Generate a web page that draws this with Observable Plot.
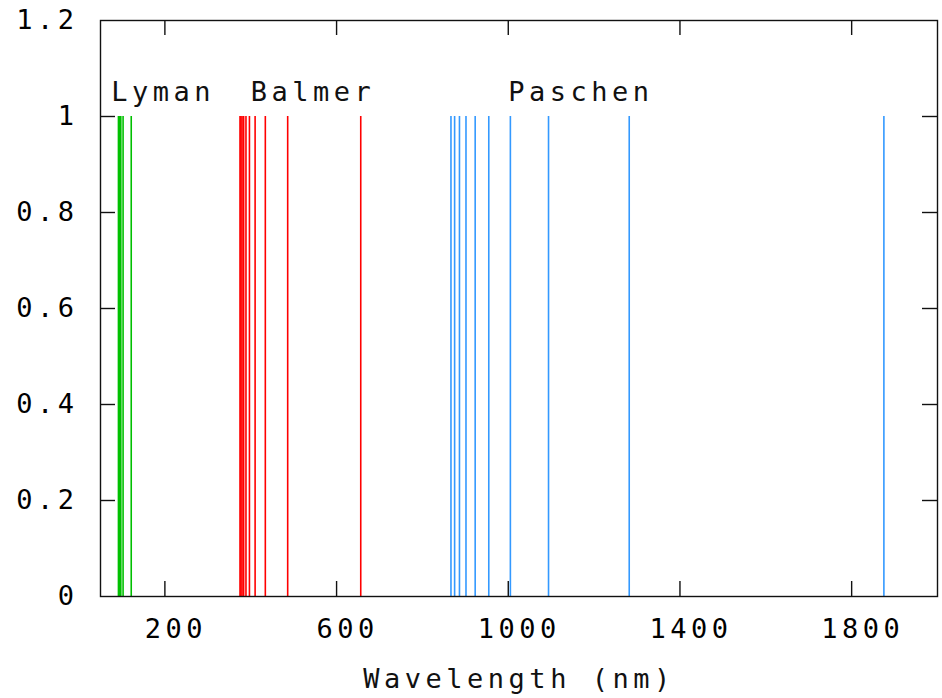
<!DOCTYPE html>
<html>
<head>
<meta charset="utf-8">
<script src="https://cdn.jsdelivr.net/npm/d3@7"></script>
<script src="https://cdn.jsdelivr.net/npm/@observablehq/plot@0.6"></script>
<style>
  html, body { margin: 0; padding: 0; background: #fff; }
  svg text { letter-spacing: 4.5px; }
</style>
</head>
<body>
<div id="chart"></div>
<script>
// Hydrogen spectral lines (nm)
const lymanNm   = [121.6, 102.6, 97.3, 95.0, 93.8, 93.1, 92.6, 92.3, 92.1];
const balmerNm  = [656.3, 486.1, 434.0, 410.2, 397.0, 388.9, 383.5, 379.8, 377.1, 375.0];
const paschenNm = [1875.1, 1281.8, 1093.8, 1004.9, 954.6, 922.9, 901.5, 886.3, 875.0, 866.5];
const lineHeight = 1;

const seriesNames  = ["Lyman", "Balmer", "Paschen"];
const seriesColors = ["#00c000", "#ff0000", "#3399ff"];
const labelX = [75, 400, 1000];
const labelY = [1.05, 1.05, 1.05];

const xTicks = [200, 600, 1000, 1400, 1800];
const yTicks = [0, 0.2, 0.4, 0.6, 0.8, 1, 1.2];
const xTitle = "Wavelength (nm)";

const rows = [
  ...lymanNm.map(wl => ({wl, series: "Lyman", h: lineHeight})),
  ...balmerNm.map(wl => ({wl, series: "Balmer", h: lineHeight})),
  ...paschenNm.map(wl => ({wl, series: "Paschen", h: lineHeight}))
];
const labels = seriesNames.map((name, i) => ({name, x: labelX[i], y: labelY[i]}));

const W = 942, H = 698, mL = 100, mR = 5, mT = 20, mB = 102;
const pw = W - mL - mR, ph = H - mT - mB;
const tick = 15;
const font = "DejaVu Sans Mono";
const fs = 27;

const chart = Plot.plot({
  width: W, height: H,
  marginLeft: mL, marginRight: mR, marginTop: mT, marginBottom: mB,
  x: {domain: [50, 2000]},
  y: {domain: [0, 1.2]},
  color: {domain: seriesNames, range: seriesColors},
  style: {fontFamily: font, fontSize: fs + "px", color: "#000", background: "#fff"},
  marks: [
    Plot.ruleX(rows, {x: "wl", y1: 0, y2: "h", stroke: "series", strokeWidth: 1.6}),
    // inward ticks, bottom and top
    Plot.ruleX(xTicks, {x: d => d, insetTop: ph - tick, stroke: "#111", strokeWidth: 1.4}),
    Plot.ruleX(xTicks, {x: d => d, insetBottom: ph - tick, stroke: "#111", strokeWidth: 1.4}),
    // inward ticks, left and right
    Plot.ruleY(yTicks.slice(1, -1), {y: d => d, insetRight: pw - tick, stroke: "#111", strokeWidth: 1.4}),
    Plot.ruleY(yTicks.slice(1, -1), {y: d => d, insetLeft: pw - tick, stroke: "#111", strokeWidth: 1.4}),
    Plot.frame({stroke: "#111", strokeWidth: 1.4}),
    Plot.axisX(xTicks, {anchor: "bottom", tickSize: 0, tickPadding: 22, dx: 11,
      tickFormat: d => String(d), label: null, fontSize: fs, fontFamily: font}),
    Plot.axisY(yTicks, {anchor: "left", tickSize: 0, tickPadding: 22,
      tickFormat: d => String(d), label: null, fontSize: fs, fontFamily: font}),
    Plot.text(labels, {x: "x", y: "y", text: "name", textAnchor: "start", lineAnchor: "middle",
      fontSize: fs, fontFamily: font, fill: "#111"}),
    Plot.text([xTitle], {text: d => d, frameAnchor: "bottom", lineAnchor: "top", dy: 72, dx: 0,
      fontSize: fs, fontFamily: font, fill: "#111"})
  ]
});
document.getElementById("chart").appendChild(chart);
</script>
</body>
</html>
